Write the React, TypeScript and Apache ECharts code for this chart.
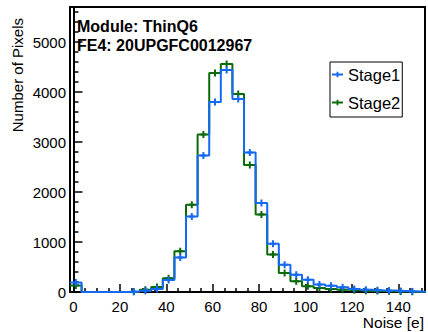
import React, { useEffect, useRef } from "react";
import * as echarts from "echarts";

// Histogram bins: width 5, left edges start at -1.5
const binLow = -1.5;
const binWidth = 5;
const stage1Counts = [190, 0, 0, 0, 0, 8, 25, 60, 240, 690, 1510, 2730, 3800, 4440, 3860, 2790, 1780, 965, 545, 345, 245, 150, 125, 95, 60, 45, 35, 28, 20, 12, 0];
const stage2Counts = [130, 0, 0, 0, 0, 5, 45, 100, 275, 815, 1745, 3150, 4380, 4560, 3960, 2540, 1550, 750, 380, 215, 115, 80, 60, 45, 35, 22, 20, 14, 8, 5, 0];
const seriesNames = ["Stage1", "Stage2"];
const xTickLabels = [0, 20, 40, 60, 80, 100, 120, 140];
const xMinorTicks = [5, 10, 15, 25, 30, 35, 45, 50, 55, 65, 70, 75, 85, 90, 95, 105, 110, 115, 125, 130, 135, 145, 150];
const yTickLabels = [0, 1000, 2000, 3000, 4000, 5000];
const yMinorTicks = [200, 400, 600, 800, 1200, 1400, 1600, 1800, 2200, 2400, 2600, 2800, 3200, 3400, 3600, 3800, 4200, 4400, 4600, 4800, 5200, 5400, 5600];
const titleLines = ["Module: ThinQ6", "FE4: 20UPGFC0012967"];
const xTitle = "Noise [e]";
const yTitle = "Number of Pixels";

const FONT = '"Liberation Sans", Arial, sans-serif';
const BLUE = "#1469f2";
const GREEN = "#0b6b0b";

function stepData(counts: number[]) {
  const pts: number[][] = counts.map((c, i) => [binLow + i * binWidth, c]);
  pts.push([binLow + counts.length * binWidth, counts[counts.length - 1]]);
  return pts;
}
function markerData(counts: number[]) {
  return counts
    .map((c, i) => [binLow + (i + 0.5) * binWidth, c])
    .filter((p) => p[1] > 0);
}
function crossSeries(name: string, counts: number[], color: string) {
  return {
    type: "custom",
    name,
    data: markerData(counts),
    renderItem: (_p: any, api: any) => {
      const pt = api.coord([api.value(0), api.value(1)]);
      return {
        type: "group",
        children: [
          { type: "line", shape: { x1: pt[0], y1: pt[1] - 3.5, x2: pt[0], y2: pt[1] + 3.5 }, style: { stroke: color, lineWidth: 2 } },
          { type: "line", shape: { x1: pt[0] - 3, y1: pt[1], x2: pt[0] + 3, y2: pt[1] }, style: { stroke: color, lineWidth: 2 } },
        ],
      };
    },
    z: 3,
  };
}

export default function App() {
  const ref = useRef<HTMLDivElement>(null);
  useEffect(() => {
    if (!ref.current) return;
    const chart = echarts.init(ref.current, null, { renderer: "svg" });
    const xMin = -1.5;
    const xMax = 151.5;
    const yMax = 5700;
    const plain = (v: number) => String(v);
    chart.setOption({
      animation: false,
      backgroundColor: "#fff",
      grid: { left: 70, right: 3, top: 7, bottom: 40, show: true, borderColor: "#000", borderWidth: 2, backgroundColor: "transparent" },
      legend: {
        data: seriesNames,
        orient: "vertical",
        left: 330,
        top: 62,
        icon: "path://M0,2 L5,2 L5,0 L7,0 L7,2 L12,2 L12,4 L7,4 L7,6 L5,6 L5,4 L0,4 Z",
        itemWidth: 11,
        itemHeight: 6,
        itemGap: 11,
        padding: [4, 2, 6, 2],
        borderColor: "#000",
        borderWidth: 1,
        backgroundColor: "#fff",
        textStyle: { fontFamily: FONT, fontSize: 16.5, color: "#000", lineHeight: 16 },
      },
      xAxis: [
        {
          type: "value",
          min: xMin,
          max: xMax,
          axisLine: { show: true, lineStyle: { color: "#000", width: 2 } },
          axisTick: { show: true, inside: true, length: 8, customValues: xTickLabels, lineStyle: { color: "#000", width: 1.5 } },
          axisLabel: { show: true, customValues: xTickLabels, formatter: plain, margin: 7, fontFamily: FONT, fontSize: 15, color: "#000" },
          splitLine: { show: false },
        },
        {
          type: "value",
          min: xMin,
          max: xMax,
          position: "bottom",
          axisLine: { show: false },
          axisTick: { show: true, inside: true, length: 4, customValues: xMinorTicks, lineStyle: { color: "#000", width: 1.5 } },
          axisLabel: { show: false },
          splitLine: { show: false },
        },
      ],
      yAxis: [
        {
          type: "value",
          min: 0,
          max: yMax,
          axisLine: { show: true, lineStyle: { color: "#000", width: 2 } },
          axisTick: { show: true, inside: true, length: 9, customValues: yTickLabels, lineStyle: { color: "#000", width: 1.5 } },
          axisLabel: { show: true, customValues: yTickLabels, formatter: plain, margin: 4, fontFamily: FONT, fontSize: 15, color: "#000" },
          splitLine: { show: false },
        },
        {
          type: "value",
          min: 0,
          max: yMax,
          position: "left",
          axisLine: { show: false },
          axisTick: { show: true, inside: true, length: 5, customValues: yMinorTicks, lineStyle: { color: "#000", width: 1.5 } },
          axisLabel: { show: false },
          splitLine: { show: false },
        },
      ],
      series: [
        {
          type: "line",
          name: seriesNames[1],
          data: stepData(stage2Counts),
          step: "end",
          showSymbol: false,
          symbol: "none",
          lineStyle: { color: GREEN, width: 2 },
          itemStyle: { color: GREEN },
          z: 2,
        },
        {
          type: "line",
          name: seriesNames[0],
          data: stepData(stage1Counts),
          step: "end",
          showSymbol: false,
          symbol: "none",
          lineStyle: { color: BLUE, width: 2 },
          itemStyle: { color: BLUE },
          z: 4,
        },
        crossSeries("Stage2 errors", stage2Counts, GREEN),
        { ...crossSeries("Stage1 errors", stage1Counts, BLUE), z: 5 },
      ],
      graphic: [
        { type: "text", x: 77, y: 26.5, style: { text: titleLines[0], font: `bold 16px ${FONT}`, fill: "#000", verticalAlign: "middle" }, z: 10 },
        { type: "text", x: 77, y: 45, style: { text: titleLines[1], font: `bold 16px ${FONT}`, fill: "#000", verticalAlign: "middle" }, z: 10 },
        { type: "text", x: 424, y: 322, style: { text: xTitle, font: `15.5px ${FONT}`, fill: "#000", align: "right", verticalAlign: "middle" } },
        { type: "text", x: 17, y: 18, rotation: Math.PI / 2, style: { text: yTitle, font: `15px ${FONT}`, fill: "#000", align: "right", verticalAlign: "middle" } },
      ],
    });
    return () => chart.dispose();
  }, []);
  return <div ref={ref} style={{ position: "fixed", left: 0, top: 0, width: 428, height: 332 }} />;
}
